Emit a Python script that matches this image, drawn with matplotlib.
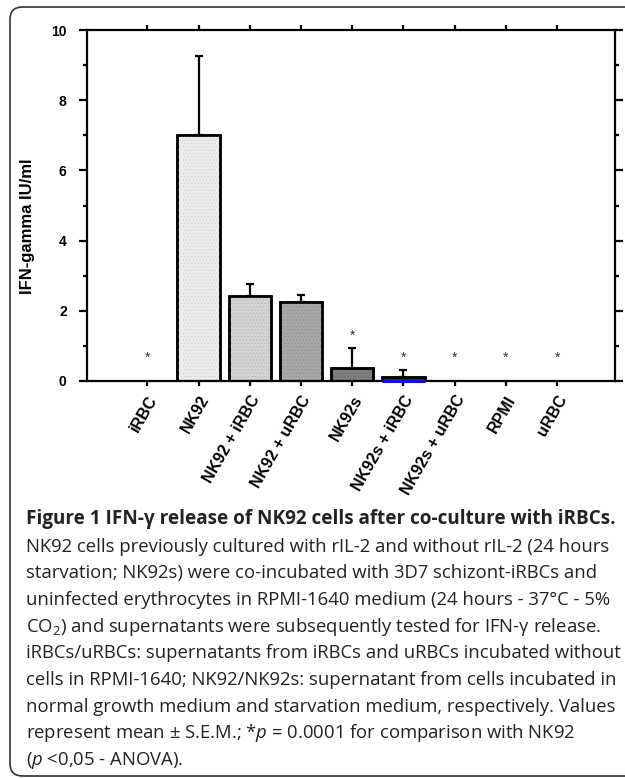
import matplotlib
matplotlib.use('Agg')
import numpy as np
from matplotlib import pyplot as plt
from matplotlib.patches import FancyBboxPatch
from matplotlib.ticker import MultipleLocator

# data
categories = ['iRBC', 'NK92', 'NK92 + iRBC', 'NK92 + uRBC', 'NK92s',
              'NK92s + iRBC', 'NK92s + uRBC', 'RPMI', 'uRBC']
ifn_mean = [0.0, 7.0, 2.42, 2.25, 0.38, 0.12, 0.0, 0.0, 0.0]
ifn_sem = [0.0, 2.27, 0.35, 0.20, 0.57, 0.20, 0.0, 0.0, 0.0]
significant = [True, False, False, False, True, True, True, True, True]
bar_fill = ['white', '#ececec', '#d3d3d3', '#a8a8a8', '#7f7f7f',
            '#3a3a3a', 'white', 'white', 'white']
dot_col = ['white', '#d6d6d6', '#bcbcbc', '#939393', '#6e6e6e',
           '#2a2a2a', 'white', 'white', 'white']

caption_title = 'Figure 1 IFN-\u03b3 release of NK92 cells after co-culture with iRBCs.'
caption_lines = [
    'NK92 cells previously cultured with rIL-2 and without rIL-2 (24 hours',
    'starvation; NK92s) were co-incubated with 3D7 schizont-iRBCs and',
    'uninfected erythrocytes in RPMI-1640 medium (24 hours - 37\u00b0C - 5%',
    'CO$_2$) and supernatants were subsequently tested for IFN-\u03b3 release.',
    'iRBCs/uRBCs: supernatants from iRBCs and uRBCs incubated without',
    'cells in RPMI-1640; NK92/NK92s: supernatant from cells incubated in',
    'normal growth medium and starvation medium, respectively. Values',
    'represent mean \u00b1 S.E.M.; *$p$ = 0.0001 for comparison with NK92',
    '($p$ <0,05 - ANOVA).',
]

plt.rcParams['font.family'] = ['Liberation Sans', 'DejaVu Sans']
plt.rcParams['mathtext.fontset'] = 'custom'
plt.rcParams['mathtext.rm'] = 'Open Sans'
plt.rcParams['mathtext.it'] = 'Open Sans:italic'
plt.rcParams['hatch.linewidth'] = 0.6

fig = plt.figure(figsize=(6.25, 7.78), dpi=100)
ax = fig.add_axes([0.139, 0.5103, 0.845, 0.451])

x = np.arange(len(categories))
w = 0.83
mean = np.array(ifn_mean)
sem = np.array(ifn_sem)

ax.bar(x, mean, w, color=bar_fill, edgecolor='black', linewidth=1.8, zorder=2)
# fine stipple texture on the bars
ax.bar(x, mean, w, fill=False, edgecolor=dot_col, linewidth=0, hatch='.....', zorder=2.5)
ax.bar(x, mean, w, fill=False, edgecolor='black', linewidth=1.8, zorder=3)

has_err = sem > 0
ax.errorbar(x[has_err], mean[has_err], yerr=[np.zeros(has_err.sum()), sem[has_err]],
            fmt='none', ecolor='black', elinewidth=1.6, capsize=3, capthick=1.6, zorder=1)

# blue bottom edge on the NK92s + iRBC bar
i_blue = categories.index('NK92s + iRBC')
ax.hlines(0, x[i_blue] - w / 2, x[i_blue] + w / 2, color='#1010d0', linewidth=2.2, zorder=4,
          clip_on=False)

for i, sig in enumerate(significant):
    if sig:
        ys = max(mean[i] + sem[i], 0.3) + 0.35
        ax.text(x[i], ys, '*', ha='center', va='center', fontsize=10, color='#333333')

ax.set_xlim(-1.18, 9.13)
ax.set_ylim(0, 10)

for s in ax.spines.values():
    s.set_linewidth(1.6)

ax.yaxis.set_major_locator(MultipleLocator(2))
ax.yaxis.set_minor_locator(MultipleLocator(1))
ax.tick_params(axis='y', which='major', direction='out', length=5.5, width=1.6,
               labelsize=10, pad=9, right=True)
ax.tick_params(axis='y', which='minor', direction='out', length=3, width=1.6, right=True)
ax.set_yticks([0, 2, 4, 6, 8, 10])
ax.set_yticklabels(['0', '2', '4', '6', '8', '10'], fontweight='bold')

ax.set_xticks(x)
ax.set_xticklabels(categories, rotation=60, ha='right', va='top', rotation_mode='anchor',
                   fontweight='bold', fontsize=11.5)
ax.tick_params(axis='x', which='major', direction='out', length=3.5, width=1.6, top=True, pad=5)

ax.set_ylabel('IFN-gamma IU/ml', fontweight='bold', fontsize=12)
ax.yaxis.set_label_coords(-0.098, 0.44)

# rounded frame round the figure
frame = FancyBboxPatch((10 / 625, 2 / 778), 640 / 625, 769 / 778,
                       boxstyle='round,pad=0,rounding_size=0.02',
                       transform=fig.transFigure, fill=False, edgecolor='#333333',
                       linewidth=1.2, mutation_aspect=625 / 778)
fig.patches.append(frame)

cap_font = ['Open Sans', 'DejaVu Sans']
fig.text(26 / 625, 1 - 519 / 778, caption_title, family=cap_font, fontweight='bold',
         fontsize=13.6, va='center', ha='left', color='#222222')
for k, line in enumerate(caption_lines):
    fig.text(26 / 625, 1 - (546.5 + 26.7 * k) / 778, line, family=cap_font,
             fontsize=13.3, va='center', ha='left', color='#222222')

fig.savefig('out.png', dpi=100)
